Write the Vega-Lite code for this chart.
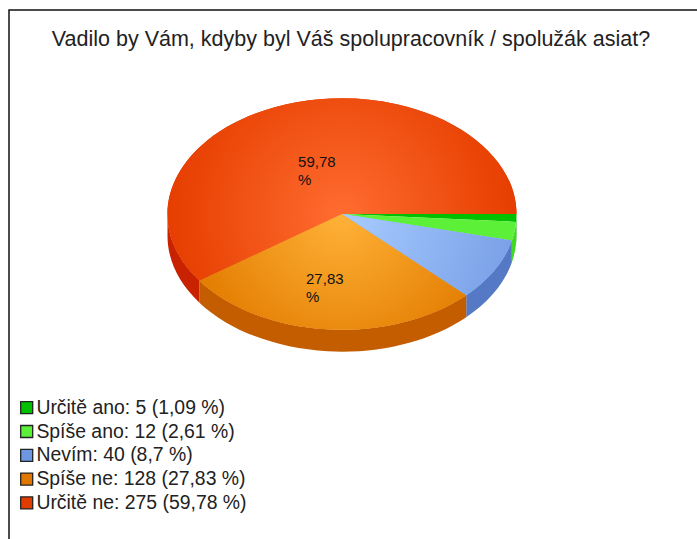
{
"$schema":"https://vega.github.io/schema/vega-lite/v6.json",
"width":700,"height":540,
"autosize":{"type":"none"},
"padding":{"left":9,"top":10,"right":0,"bottom":0},
"background":"white",
"view":{"stroke":"#111","strokeWidth":1.5,"fill":null},
"title":{"text":"Vadilo by Vám, kdyby byl Váš spolupracovník / spolužák asiat?","anchor":"middle","frame":"group","orient":"top","offset":-51,"dx":-8,"font":"Liberation Sans","fontSize":21.5,"fontWeight":"normal","color":"#222","baseline":"middle"},
"data":{"values":[
{"order":1,"answer":"Určitě ano","count":5,"percent":1.09,"legend":"Určitě ano: 5 (1,09 %)","pieLabel":""},
{"order":2,"answer":"Spíše ano","count":12,"percent":2.61,"legend":"Spíše ano: 12 (2,61 %)","pieLabel":""},
{"order":3,"answer":"Nevím","count":40,"percent":8.7,"legend":"Nevím: 40 (8,7 %)","pieLabel":""},
{"order":4,"answer":"Spíše ne","count":128,"percent":27.83,"legend":"Spíše ne: 128 (27,83 %)","pieLabel":"27,83\n%"},
{"order":5,"answer":"Určitě ne","count":275,"percent":59.78,"legend":"Určitě ne: 275 (59,78 %)","pieLabel":"59,78\n%"}
]},
"layer":[
{"mark":{"type":"point","filled":true,"opacity":1,"size":121801,"xOffset":-17,"yOffset":-66},
 "encoding":{
 "shape":{"field":"answer","legend":null,"scale":{"domain":["Určitě ano","Spíše ano","Nevím","Spíše ne","Určitě ne"],"range":[
 "M1 0A1 .663 0 0 1 .99767 .04524L.99767 .17094A1 .663 0 0 0 1 .1257Z",
 "M.99767 .04524A1 .663 0 0 1 .97316 .15256L.97316 .27826A1 .663 0 0 0 .99767 .17094Z",
 "M.97316 .15256A1 .663 0 0 1 .71195 .46558L.71195 .59128A1 .663 0 0 0 .97316 .27826Z",
 "M.71195 .46558A1 .663 0 0 1 -.817 .3823L-.817 .508A1 .663 0 0 0 .71195 .59128Z",
 "M-.817 .3823A1 .663 0 0 1 -1 0L-1 .1257A1 .663 0 0 0 -.817 .508Z"]}},
 "color":{"field":"answer","legend":null,"scale":{"domain":["Určitě ano","Spíše ano","Nevím","Spíše ne","Určitě ne"],"range":["#00a000","#44d822","#5579c4","#c45c00","#c92200"]}}
 }},
{"mark":{"type":"point","filled":true,"opacity":1,"size":121801,"xOffset":-17,"yOffset":-66},
 "encoding":{
 "shape":{"field":"answer","legend":null,"scale":{"domain":["Určitě ano","Spíše ano","Nevím","Spíše ne","Určitě ne"],"range":[
 "M0 0L1 0A1 .663 0 0 1 .99767 .04524Z",
 "M0 0L.99767 .04524A1 .663 0 0 1 .97316 .15256Z",
 "M0 0L.97316 .15256A1 .663 0 0 1 .71195 .46558Z",
 "M0 0L.71195 .46558A1 .663 0 0 1 -.817 .3823Z",
 "M0 0L-.817 .3823A1 .663 0 1 1 1 0Z"]}},
 "color":{"field":"legend","sort":{"field":"order"},"title":null,"scale":{"domain":["Určitě ano: 5 (1,09 %)","Spíše ano: 12 (2,61 %)","Nevím: 40 (8,7 %)","Spíše ne: 128 (27,83 %)","Určitě ne: 275 (59,78 %)"],"range":["#00c000","#5cf038","#6d97e0","#e07800","#e03c00"]},
 "legend":{"orient":"none","legendX":8,"legendY":388,"symbolType":"square","symbolSize":144,"symbolStrokeColor":"#222","symbolStrokeWidth":1.3,"labelFont":"Liberation Sans","labelFontSize":19.4,"labelColor":"#222","rowPadding":2.8,"labelOffset":0,"labelLimit":300,"padding":0,"symbolOpacity":1}}
 }},
{"transform":[{"filter":"datum.order==5"}],
 "mark":{"type":"point","filled":true,"opacity":1,"size":121801,"xOffset":-17,"yOffset":-66,"shape":"M0 0L-.817 .3823A1 .663 0 1 1 1 0Z","fill":{"gradient":"radial","x1":0.5,"y1":0.573,"r1":0,"x2":0.5,"y2":0.573,"r2":0.5,"stops":[{"offset":0,"color":"#ff6c30"},{"offset":1,"color":"#e63e00"}]}},"encoding":{}},
{"transform":[{"filter":"datum.order==4"}],
 "mark":{"type":"point","filled":true,"opacity":1,"size":121801,"xOffset":-17,"yOffset":-66,"shape":"M0 0L.71195 .46558A1 .663 0 0 1 -.817 .3823Z","fill":{"gradient":"radial","x1":0.534,"y1":0.285,"r1":0,"x2":0.534,"y2":0.285,"r2":0.6,"stops":[{"offset":0,"color":"#ffb238"},{"offset":1,"color":"#e27c00"}]}},"encoding":{}},
{"transform":[{"filter":"datum.order==3"}],
 "mark":{"type":"point","filled":true,"opacity":1,"size":121801,"xOffset":-17,"yOffset":-66,"shape":"M0 0L.97316 .15256A1 .663 0 0 1 .71195 .46558Z","fill":{"gradient":"radial","x1":0,"y1":0.262,"r1":0,"x2":0,"y2":0.262,"r2":1,"stops":[{"offset":0,"color":"#a8ccff"},{"offset":1,"color":"#7ba2e8"}]}},"encoding":{}},
{"transform":[
  {"stack":"count","sort":[{"field":"order"}],"as":["start","end"]},
  {"calculate":"(datum.start+datum.end)/2","as":"midCount"}],
 "mark":{"type":"text","font":"Liberation Sans","fontSize":15,"align":"left","baseline":"middle","lineBreak":"\n","lineHeight":18,"color":"#111","xOffset":-47,"yOffset":-74},
 "encoding":{
 "theta":{"field":"midCount","type":"quantitative","stack":false,"scale":{"domain":[0,460],"nice":false,"range":[1.5708,7.854]}},
 "radius":{"field":"percent","type":"quantitative","scale":{"type":"linear","domain":[27.83,59.78],"range":[73,46],"zero":false,"clamp":false}},
 "text":{"field":"pieLabel"}
 }}
],
"resolve":{"scale":{"shape":"independent","color":"independent"},"legend":{"color":"independent"}}
}
